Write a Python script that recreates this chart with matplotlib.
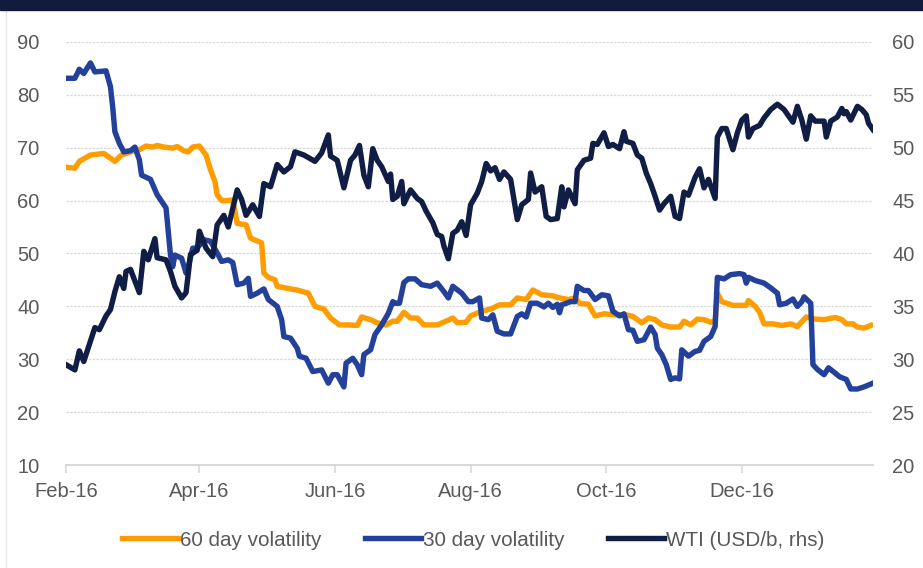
import matplotlib
matplotlib.use('Agg')
import matplotlib.pyplot as plt
import matplotlib.dates as mdates
import pandas as pd

# Data: day offsets from 1 Feb 2016 and values
startDate = pd.Timestamp('2016-02-01')

vol60Days = [0, 4, 6, 11, 17, 19, 22, 25, 29, 33, 36, 39, 41, 44, 48, 50, 53, 55, 57, 60,
             63, 65, 67, 68, 70, 73, 75, 77, 81, 83, 88, 89, 91, 94, 95, 101, 104, 109, 112, 116,
             119, 123, 127, 131, 133, 137, 140, 144, 147, 149, 152, 155, 158, 161, 167, 172, 174, 176, 180, 182,
             187, 191, 195, 200, 203, 207, 210, 214, 219, 221, 226, 229, 231, 235, 238, 242, 247, 252, 255, 259,
             262, 265, 268, 272, 276, 278, 281, 284, 287, 290, 292, 293, 295, 300, 306, 307, 310, 312, 314, 318,
             322, 326, 329, 333, 337, 341, 346, 349, 351, 354, 356, 359, 362]
vol60 = [66.3, 66.1, 67.4, 68.6, 68.9, 68.3, 67.4, 68.6, 69.2, 69.6, 70.3, 70.1, 70.4, 70.1, 69.9, 70.2, 69.4, 69.2, 70.1, 70.3,
         68.6, 65.8, 63.6, 61.1, 60.0, 60.0, 60.1, 55.7, 55.4, 52.9, 52.0, 46.3, 45.5, 45.0, 43.8, 43.3, 43.1, 42.5, 40.0, 39.5,
         37.8, 36.5, 36.5, 36.4, 38.0, 37.5, 36.9, 36.5, 37.2, 37.2, 38.9, 37.8, 37.8, 36.5, 36.5, 37.4, 37.8, 36.9, 37.0, 38.2,
         39.1, 39.5, 40.3, 40.3, 41.6, 41.3, 43.1, 42.2, 42.0, 41.7, 41.3, 41.6, 40.6, 40.4, 38.2, 38.6, 38.4, 38.4, 38.1, 36.9,
         37.8, 37.5, 36.5, 36.1, 36.1, 37.2, 36.5, 37.6, 37.5, 37.0, 37.3, 42.5, 40.9, 40.2, 40.2, 41.1, 40.0, 38.9, 36.7, 36.7,
         36.4, 36.7, 36.2, 38.0, 37.6, 37.5, 37.9, 37.5, 36.7, 36.7, 36.1, 35.9, 36.4]

vol30Days = [0, 4, 6, 8, 11, 13, 18, 20, 21, 22, 24, 26, 29, 31, 33, 34, 38, 41, 45, 47,
             48, 49, 52, 54, 55, 57, 59, 62, 65, 68, 70, 73, 75, 77, 80, 82, 83, 86, 89, 91,
             95, 97, 98, 101, 104, 105, 108, 111, 115, 118, 120, 122, 125, 126, 129, 131, 133, 134, 137, 139,
             142, 145, 147, 148, 150, 152, 154, 157, 160, 164, 167, 170, 172, 174, 178, 181, 183, 186, 187, 190,
             192, 194, 197, 200, 203, 205, 207, 209, 212, 215, 217, 219, 221, 222, 223, 227, 229, 230, 233, 235,
             238, 241, 244, 246, 249, 251, 253, 255, 257, 260, 263, 265, 266, 268, 270, 272, 274, 276, 277, 280,
             283, 285, 287, 290, 292, 293, 296, 299, 303, 305, 306, 307, 310, 314, 317, 320, 321, 324, 327, 329,
             331, 332, 335, 336, 338, 341, 343, 346, 348, 351, 353, 356, 359, 363]
vol30 = [83.1, 83.1, 84.8, 84.0, 86.0, 84.3, 84.5, 81.5, 77.7, 73.0, 70.8, 69.2, 69.4, 70.1, 67.7, 64.8, 64.0, 61.1, 58.6, 49.7,
         47.5, 49.7, 49.1, 46.3, 47.5, 51.0, 51.0, 52.6, 52.3, 50.1, 48.5, 48.8, 48.3, 44.1, 44.4, 45.3, 41.9, 42.5, 43.3, 41.3,
         40.0, 37.5, 34.3, 34.0, 32.1, 30.6, 30.2, 27.7, 28.0, 25.5, 27.1, 27.1, 24.8, 29.3, 30.2, 29.0, 27.1, 30.9, 31.8, 34.7,
         36.5, 38.7, 40.9, 40.6, 40.6, 44.5, 45.2, 45.2, 44.1, 43.8, 44.4, 42.8, 41.6, 43.8, 42.5, 40.9, 40.9, 41.6, 37.8, 37.5,
         38.4, 35.3, 34.8, 34.8, 38.1, 38.6, 38.0, 40.6, 40.6, 39.9, 40.6, 39.8, 40.4, 38.8, 40.3, 40.9, 40.9, 43.8, 43.0, 43.0,
         41.3, 42.2, 42.0, 39.1, 38.2, 38.6, 35.6, 35.5, 33.4, 33.7, 36.1, 34.7, 32.1, 30.9, 29.0, 26.2, 26.5, 26.3, 31.8, 30.6,
         31.5, 31.7, 33.4, 34.3, 36.2, 45.5, 45.2, 46.0, 46.2, 46.0, 44.4, 45.5, 44.9, 44.4, 43.5, 42.5, 40.3, 40.6, 41.4, 40.0,
         40.9, 41.8, 40.6, 29.0, 28.1, 27.1, 28.4, 27.4, 26.7, 26.2, 24.4, 24.4, 24.8, 25.5]

wtiDays = [0, 4, 6, 8, 11, 13, 15, 18, 20, 22, 24, 26, 27, 29, 33, 35, 37, 40, 41, 45,
           47, 49, 52, 54, 56, 59, 60, 63, 66, 68, 71, 73, 77, 79, 81, 84, 87, 89, 92, 95,
           98, 101, 103, 107, 112, 115, 118, 119, 122, 125, 128, 130, 132, 134, 136, 138, 140, 142, 145, 146,
           147, 149, 151, 152, 155, 158, 160, 162, 165, 167, 169, 170, 172, 174, 176, 178, 180, 182, 185, 187,
           189, 191, 193, 195, 197, 200, 203, 205, 208, 209, 211, 214, 216, 218, 221, 223, 224, 226, 229, 230,
           233, 236, 237, 239, 242, 244, 246, 249, 251, 252, 255, 257, 259, 261, 263, 265, 267, 269, 272, 274,
           276, 278, 280, 283, 285, 287, 289, 292, 293, 295, 297, 300, 302, 304, 306, 307, 309, 312, 314, 317,
           320, 323, 327, 329, 331, 333, 335, 337, 341, 342, 344, 347, 349, 350, 351, 353, 356, 358, 360, 361,
           363]
wti = [29.5, 29.0, 30.8, 29.8, 31.7, 33.0, 32.8, 34.1, 34.7, 36.4, 37.8, 36.7, 38.3, 38.5, 36.3, 40.2, 39.4, 41.4, 39.6, 39.4,
       38.3, 36.9, 35.8, 36.3, 39.9, 40.3, 42.1, 40.5, 39.7, 42.7, 43.6, 42.5, 46.0, 45.1, 43.6, 44.6, 43.5, 46.6, 46.3, 48.4,
       47.7, 48.2, 49.6, 49.3, 48.7, 49.5, 51.2, 49.2, 48.8, 46.2, 48.8, 49.3, 50.2, 47.4, 46.3, 49.9, 48.8, 48.2, 46.8, 47.5,
       45.1, 45.4, 46.8, 44.7, 46.0, 45.2, 44.9, 44.0, 42.9, 41.8, 41.6, 40.7, 39.5, 41.9, 42.2, 43.0, 41.7, 44.6, 45.7, 46.8,
       48.5, 47.8, 48.1, 47.0, 47.7, 47.0, 43.2, 44.6, 45.1, 47.6, 45.8, 46.3, 43.5, 43.2, 43.3, 46.3, 44.4, 46.0, 44.7, 47.9,
       48.8, 49.0, 50.4, 50.3, 51.4, 50.1, 50.3, 49.9, 51.5, 50.6, 50.4, 49.3, 49.0, 47.6, 46.6, 45.4, 44.1, 44.7, 45.4, 43.5,
       43.3, 45.8, 45.5, 47.2, 48.0, 46.2, 47.0, 45.2, 51.0, 51.8, 51.8, 49.8, 51.4, 52.6, 53.0, 51.0, 51.8, 52.1, 52.8, 53.6,
       54.1, 53.6, 52.4, 53.9, 52.6, 50.8, 53.0, 52.5, 52.5, 51.0, 52.5, 52.9, 53.7, 53.2, 53.4, 52.6, 53.9, 53.6, 53.1, 52.3,
       51.7]

tickDates = ['2016-02-01', '2016-04-01', '2016-06-01', '2016-08-01', '2016-10-01', '2016-12-01']
leftTicks = [10, 20, 30, 40, 50, 60, 70, 80, 90]
rightTicks = [20, 25, 30, 35, 40, 45, 50, 55, 60]
seriesNames = ['60 day volatility', '30 day volatility', 'WTI (USD/b, rhs)']

# Colours
orange = '#FF9C00'
blue = '#23419A'
navy = '#101D45'
textGrey = '#595959'
lightGrey = '#D9D9D9'

plt.rcParams['font.family'] = ['Liberation Sans', 'DejaVu Sans']
plt.rcParams['font.size'] = 14


def toDates(days):
    return startDate + pd.to_timedelta(days, unit='D')


fig = plt.figure(figsize=(9.23, 5.68), dpi=100)
ax = fig.add_axes([0.0715, 0.181, 0.8743, 0.7455])
ax2 = ax.twinx()

lineWidth = 3.9
l60, = ax.plot(toDates(vol60Days), vol60, color=orange, lw=lineWidth, solid_joinstyle='round', label=seriesNames[0])
l30, = ax.plot(toDates(vol30Days), vol30, color=blue, lw=lineWidth, solid_joinstyle='round', label=seriesNames[1])
lWti, = ax2.plot(toDates(wtiDays), wti, color=navy, lw=lineWidth, solid_joinstyle='round', label=seriesNames[2])

# Axes limits and ticks
ax.set_xlim(startDate, startDate + pd.Timedelta(days=363))
ax.set_ylim(10, 90)
ax2.set_ylim(20, 60)
ax.set_yticks(leftTicks)
ax2.set_yticks(rightTicks)
ax.set_xticks(pd.to_datetime(tickDates))
ax.xaxis.set_major_formatter(mdates.DateFormatter('%b-%y'))

ax.grid(axis='y', color=lightGrey, linestyle=(0, (2, 1)), linewidth=0.9)
ax.set_axisbelow(True)

for a in (ax, ax2):
    for s in a.spines.values():
        s.set_visible(False)
ax.spines['bottom'].set_visible(True)
ax.spines['bottom'].set_color(lightGrey)
ax.spines['bottom'].set_linewidth(1.5)

ax.tick_params(axis='x', colors=textGrey, length=6, width=1.2, color=lightGrey, pad=6, labelsize=14.5)
ax.tick_params(axis='y', colors=textGrey, length=0, pad=19, labelsize=14.5)
ax2.tick_params(axis='y', colors=textGrey, length=0, pad=14, labelsize=14.5)

# Legend
fig.legend(handles=[l60, l30, lWti], loc='center', bbox_to_anchor=(0.513, 0.049), ncol=3, frameon=False,
           handlelength=2.7, handletextpad=0.1, columnspacing=2.1, fontsize=14.9, labelcolor=textGrey)

# Top bar and left border
fig.patches.append(plt.Rectangle((0, 0.982), 1, 0.018, transform=fig.transFigure, color='#111B3E', zorder=5))
fig.lines.append(plt.Line2D([0.007, 0.007], [0, 0.982], transform=fig.transFigure, color='#E6E6E6', lw=1))

plt.savefig('out.png', dpi=100)
